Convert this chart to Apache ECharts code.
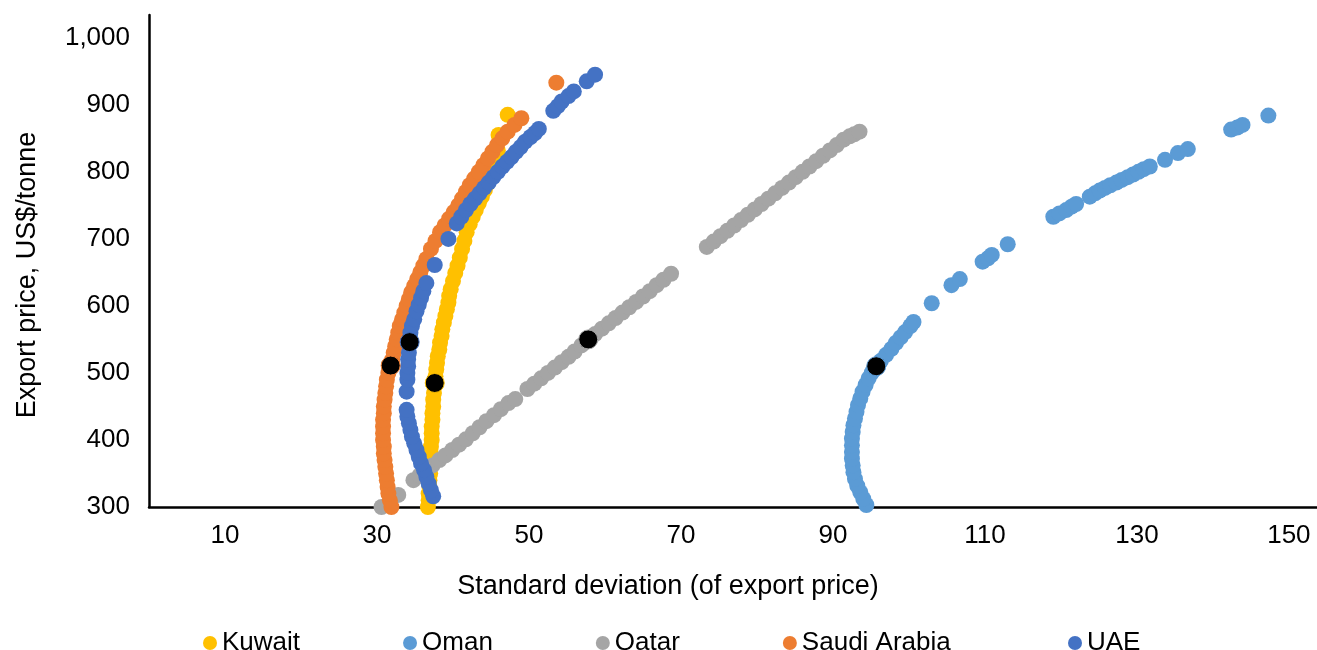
<!DOCTYPE html>
<html>
<head>
<meta charset="utf-8">
<script src="https://cdn.jsdelivr.net/npm/echarts@6/dist/echarts.min.js"></script>
<style>
html,body{margin:0;padding:0;background:#fff;}
#chart{width:1317px;height:650px;}
</style>
</head>
<body>
<div id="chart"></div>
<script>
// Standard deviation (x) vs export price US$/tonne (y)
const seriesNames = ['Kuwait', 'Oman', 'Qatar', 'Saudi Arabia', 'UAE'];
const seriesColors = ['#FFC000', '#5B9BD5', '#A5A5A5', '#ED7D31', '#4472C4'];

const kuwaitData = [
  [36.7,300],[36.8,310],[36.8,320],[36.9,330],[36.9,340],[37.0,350],[37.0,360],[37.1,370],[37.1,380],[37.1,390],
  [37.2,400],[37.2,410],[37.2,420],[37.3,430],[37.3,440],[37.4,450],[37.4,460],[37.5,470],[37.7,495],[37.8,505],
  [37.9,515],[38.0,525],[38.2,535],[38.3,545],[38.5,555],[38.6,565],[38.8,575],[39.0,585],[39.2,595],[39.4,605],
  [39.5,615],[39.7,625],[40.0,637],[40.3,649],[40.6,660],[40.9,672],[41.2,685],[41.5,697],[41.8,710],[42.2,722],
  [42.6,733],[43.0,743],[43.4,753],[43.8,763],[44.2,773],[44.6,783],[45.0,793],[45.3,803],[45.6,812],[45.8,822],
  [45.9,832],[46.0,855],[47.2,885]
];

const omanData = [
  [94.4,303],[94.0,312],[93.6,322],[93.2,332],[92.9,342],[92.7,352],[92.6,362],[92.5,372],[92.5,382],[92.5,392],
  [92.5,402],[92.6,412],[92.7,422],[92.9,432],[93.1,442],[93.3,452],[93.6,462],[93.9,472],[94.3,482],[94.7,492],
  [95.1,500],[96.3,518],[97.0,527],[97.7,536],[98.3,545],[98.9,553],[99.5,561],[100.2,570],[100.6,576],
  [103.0,604],[105.6,631],[106.7,640],[109.7,666],[110.4,671],[110.9,676],[113.0,692],[119.0,733],[119.8,738],
  [120.7,743],[121.4,748],[122.0,752],[123.8,763],[124.5,768],[125.1,772],[125.8,776],[126.5,780],[127.3,784],
  [128.0,788],[128.8,792],[129.5,796],[130.2,800],[130.9,804],[131.7,808],[133.7,818],[135.4,828],[136.7,834],
  [142.4,863],[143.2,866],[143.9,870],[147.3,884]
];

const qatarData = [
  [30.6,300],[32.8,318],[34.8,340],[35.6,347],[36.5,355],[37.3,362],[38.2,370],[39.0,377],[39.9,385],[40.8,393],
  [41.7,401],[42.6,410],[43.5,419],[44.4,428],[45.4,437],[46.3,446],[47.3,455],[48.2,461],[49.8,476],[50.7,484],
  [51.6,492],[52.5,500],[53.4,508],[54.3,516],[55.2,524],[56.0,532],[56.9,541],[58.7,558],[59.6,566],[60.5,574],
  [61.4,582],[62.3,590],[63.2,598],[64.1,606],[65.0,614],[65.9,622],[66.8,631],[67.7,639],[68.7,648],[73.4,688],
  [74.3,696],[75.2,704],[76.1,712],[77.0,720],[77.9,728],[78.8,736],[79.7,744],[80.6,752],[81.5,760],[82.4,768],
  [83.3,776],[84.2,784],[85.1,792],[86.0,800],[86.9,808],[87.8,816],[88.7,824],[89.6,832],[90.5,840],[91.4,848],
  [92.2,853],[92.8,856],[93.5,860]
];

const saudiData = [
  [31.9,300],[31.7,310],[31.5,320],[31.4,330],[31.3,340],[31.2,350],[31.1,360],[31.0,370],[30.9,380],[30.9,390],
  [30.8,400],[30.8,410],[30.8,420],[30.8,430],[30.9,440],[30.9,450],[31.0,460],[31.1,470],[31.2,480],[31.3,490],
  [31.5,500],[32.0,520],[32.2,530],[32.4,540],[32.6,550],[32.8,560],[33.0,570],[33.3,580],[33.6,590],[33.9,600],
  [34.2,610],[34.5,620],[34.9,630],[35.3,640],[35.7,650],[36.1,660],[36.5,670],[37.1,685],[37.7,697],[38.3,710],
  [38.9,720],[39.5,730],[40.1,740],[40.7,750],[41.2,760],[41.7,770],[42.2,780],[42.8,790],[43.4,800],[44.0,810],
  [44.6,820],[45.2,830],[45.8,840],[46.5,850],[47.2,860],[48.1,870],[49.0,880],[53.6,933]
];

const uaeData = [
  [37.4,316],[37.1,325],[36.8,335],[36.5,345],[36.2,355],[35.8,365],[35.5,375],[35.2,385],[34.9,395],[34.6,405],
  [34.4,415],[34.2,425],[34.0,435],[33.9,445],[33.9,472],[34.0,490],[34.0,500],[34.1,510],[34.1,520],[34.2,530],
  [34.4,560],[34.6,570],[34.9,580],[35.2,592],[35.5,602],[35.8,612],[36.1,622],[36.5,634],[37.6,661],[39.4,700],
  [40.5,723],[41.1,733],[41.7,743],[42.3,752],[42.9,760],[43.5,768],[44.1,776],[44.7,784],[45.3,792],[45.9,800],
  [46.5,808],[47.1,815],[47.7,822],[48.3,830],[48.9,837],[49.5,845],[50.2,852],[50.8,858],[51.3,864],[53.2,891],
  [53.8,898],[54.3,905],[55.2,913],[55.9,920],[57.6,935],[58.7,945]
];

// current (black) points, one per country, same order as seriesNames
const currentPoints = [[37.6,485],[95.7,510],[57.8,550],[31.8,511],[34.3,546]];

const xTickValues = [10, 30, 50, 70, 90, 110, 130, 150];
const yTickValues = [300, 400, 500, 600, 700, 800, 900, 1000];

const allData = [kuwaitData, omanData, qatarData, saudiData, uaeData];

const FONT = '"Liberation Sans", Arial, Helvetica, sans-serif';

const series = [];
allData.forEach(function (d, i) {
  series.push({
    name: seriesNames[i],
    type: 'scatter',
    data: d,
    symbol: 'circle',
    symbolSize: 16,
    itemStyle: { color: seriesColors[i], opacity: 1 },
    emphasis: { disabled: true },
    z: 2 + i
  });
});
currentPoints.forEach(function (p, i) {
  series.push({
    name: 'current-' + seriesNames[i],
    type: 'scatter',
    data: [p],
    symbol: 'circle',
    symbolSize: 19,
    itemStyle: { color: '#000', borderColor: seriesColors[i], borderWidth: 1, opacity: 1 },
    emphasis: { disabled: true },
    z: 20
  });
});

function legendItem(i) {
  return { name: seriesNames[i], icon: 'circle', itemStyle: { color: seriesColors[i] } };
}
const legendBase = {
  top: 625,
  itemWidth: 14,
  itemHeight: 14,
  itemGap: 103,
  selectedMode: false,
  textStyle: { fontFamily: FONT, fontSize: 26, color: '#000' }
};

const chart = echarts.init(document.getElementById('chart'), null, { renderer: 'canvas' });
chart.setOption({
  animation: false,
  backgroundColor: '#fff',
  grid: { left: 149, right: 0, top: 15, bottom: 143, containLabel: false },
  xAxis: {
    type: 'value',
    min: 0,
    max: 153.7,
    name: 'Standard deviation (of export price)',
    nameLocation: 'middle',
    nameGap: 66,
    nameTextStyle: { fontFamily: FONT, fontSize: 27, color: '#000', padding: [0, 130, 0, 0] },
    axisLine: { show: true, lineStyle: { color: '#000', width: 2.5 } },
    axisTick: { show: false },
    splitLine: { show: false },
    axisLabel: {
      customValues: xTickValues,
      fontFamily: FONT, fontSize: 26, color: '#000', margin: 16
    }
  },
  yAxis: {
    type: 'value',
    min: 300,
    max: 1034,
    name: 'Export price, US$/tonne',
    nameLocation: 'middle',
    nameGap: 108,
    nameRotate: 90,
    nameTextStyle: { fontFamily: FONT, fontSize: 27, color: '#000', padding: [0, 28, 0, 0] },
    axisLine: { show: true, lineStyle: { color: '#000', width: 2.5 } },
    axisTick: { show: false },
    splitLine: { show: false },
    axisLabel: {
      customValues: yTickValues,
      fontFamily: FONT, fontSize: 26, color: '#000', margin: 19,
      formatter: function (v) { return v >= 1000 ? Math.floor(v / 1000) + ',' + String(v % 1000).padStart(3, '0') : String(v); }
    }
  },
  legend: [
    Object.assign({}, legendBase, { left: 198, data: [0, 1, 2, 3].map(legendItem) }),
    Object.assign({}, legendBase, { left: 1063, data: [legendItem(4)] })
  ],
  series: series
});
</script>
</body>
</html>
